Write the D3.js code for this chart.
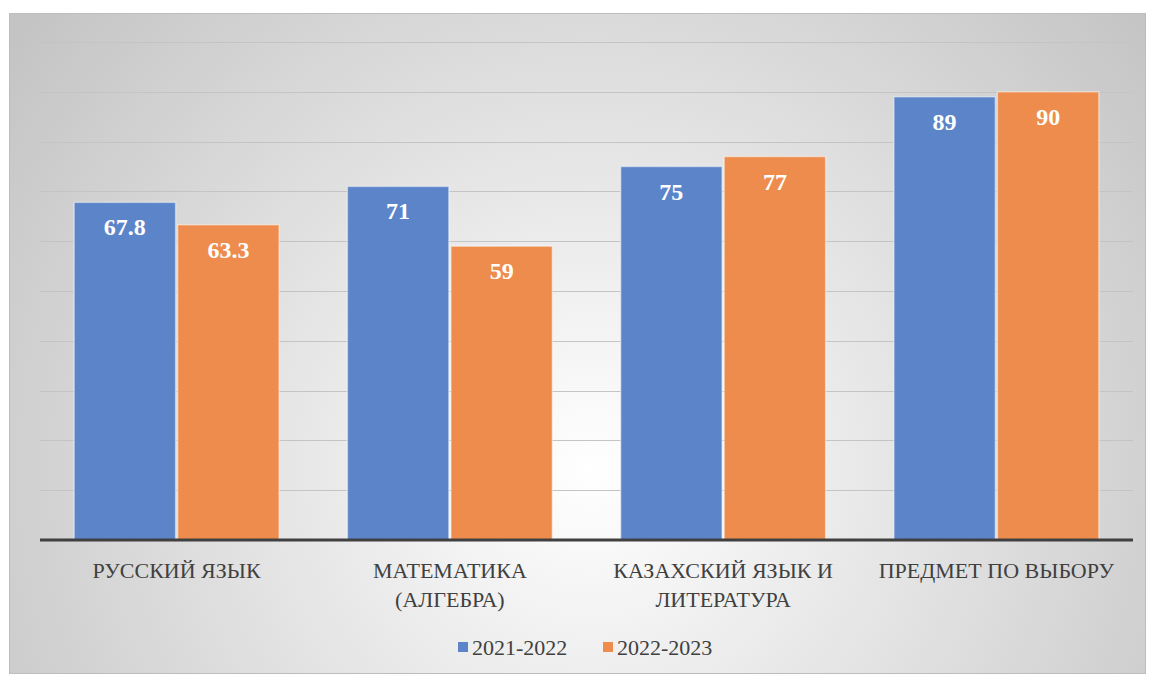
<!DOCTYPE html>
<html>
<head>
<meta charset="utf-8">
<script src="https://cdn.jsdelivr.net/npm/d3@7"></script>
<style>
  body { margin: 0; background: #fff; }
  svg { display: block; }
  svg text { font-family: "Liberation Serif", "DejaVu Serif", "Times New Roman", serif; }
</style>
</head>
<body>
<div id="graph"></div>
<script>
// data
var categories = [["РУССКИЙ ЯЗЫК"], ["МАТЕМАТИКА", "(АЛГЕБРА)"],
                  ["КАЗАХСКИЙ ЯЗЫК И", "ЛИТЕРАТУРА"], ["ПРЕДМЕТ ПО ВЫБОРУ"]]
var seriesNames = ["2021-2022", "2022-2023"]
var values2122 = [67.8, 71, 75, 89]
var values2223 = [63.3, 59, 77, 90]
var labels2122 = ["67.8", "71", "75", "89"]
var labels2223 = ["63.3", "59", "77", "90"]
var colors = ["#5b84c9", "#ed8c4c"]

var W = 1150, H = 678
var margin = {top: 42, right: 17, bottom: 138, left: 40},
    width = W - margin.left - margin.right,
    height = H - margin.top - margin.bottom

var svg = d3.select("#graph").append("svg")
            .attr("width", W)
            .attr("height", H)

// background gradient
var defs = svg.append("defs")
var grad = defs.append("radialGradient")
               .attr("id", "bg")
               .attr("gradientUnits", "userSpaceOnUse")
               .attr("cx", 590).attr("cy", 470).attr("r", 720)
grad.append("stop").attr("offset", "0%").attr("stop-color", "#ffffff")
grad.append("stop").attr("offset", "100%").attr("stop-color", "#c4c4c4")

svg.append("rect")
   .attr("x", 9.5).attr("y", 13.5)
   .attr("width", 1136).attr("height", 660)
   .attr("fill", "url(#bg)")
   .attr("stroke", "#bdbdbd")
   .attr("stroke-width", 1)

var g = svg.append("g")
           .attr("transform", "translate(" + margin.left + "," + margin.top + ")")

var x = d3.scaleBand()
          .domain(d3.range(categories.length))
          .range([0, width])
          .paddingInner(0.25)
          .paddingOuter(0.125)
var xs = d3.scaleBand()
           .domain([0, 1])
           .range([0, x.bandwidth()])
           .paddingInner(0.02)
var y = d3.scaleLinear()
          .domain([0, 100])
          .range([height, 0])

// gridlines
g.append("g")
 .selectAll("line")
 .data(d3.range(10, 101, 10))
 .enter().append("line")
 .attr("x1", 0).attr("x2", width)
 .attr("y1", function(d) { return Math.round(y(d)) + 0.5 })
 .attr("y2", function(d) { return Math.round(y(d)) + 0.5 })
 .attr("stroke", "#c4c4c4")
 .attr("stroke-width", 1.2)

var series = [values2122, values2223]
var seriesLabels = [labels2122, labels2223]

series.forEach(function(vals, si) {
    var grp = g.append("g")
    grp.selectAll("rect")
       .data(vals)
       .enter().append("rect")
       .attr("x", function(d, i) { return x(i) + xs(si) })
       .attr("y", function(d) { return y(d) })
       .attr("width", xs.bandwidth())
       .attr("height", function(d) { return y(0) - y(d) })
       .attr("fill", colors[si])
       .attr("stroke", "rgba(255,255,255,0.45)")
       .attr("stroke-width", 1.5)
    grp.selectAll("text")
       .data(vals)
       .enter().append("text")
       .attr("x", function(d, i) { return x(i) + xs(si) + xs.bandwidth() / 2 })
       .attr("y", function(d) { return y(d) + 33 })
       .attr("text-anchor", "middle")
       .attr("fill", "#ffffff")
       .attr("font-weight", "bold")
       .attr("font-size", "24px")
       .text(function(d, i) { return seriesLabels[si][i] })
})

// baseline
g.append("line")
 .attr("x1", 0).attr("x2", width)
 .attr("y1", y(0)).attr("y2", y(0))
 .attr("stroke", "#404040")
 .attr("stroke-width", 3)

// category labels
var cats = g.append("g")
cats.selectAll("text")
    .data(categories)
    .enter().append("text")
    .attr("x", function(d, i) { return x(i) + x.bandwidth() / 2 })
    .attr("y", height + 38)
    .attr("text-anchor", "middle")
    .attr("fill", "#404040")
    .attr("font-size", "22px")
    .each(function(d) {
        var t = d3.select(this)
        d.forEach(function(line, k) {
            t.append("tspan")
             .attr("x", t.attr("x"))
             .attr("dy", k === 0 ? 0 : 29)
             .text(line)
        })
    })

// legend
var legend = svg.append("g").attr("transform", "translate(458,648)")
var legX = [0, 145]
seriesNames.forEach(function(name, i) {
    legend.append("rect")
          .attr("x", legX[i]).attr("y", -6)
          .attr("width", 10).attr("height", 10)
          .attr("fill", colors[i])
    legend.append("text")
          .attr("x", legX[i] + 14).attr("y", 7)
          .attr("fill", "#404040")
          .attr("font-size", "22px")
          .text(name)
})
</script>
</body>
</html>
